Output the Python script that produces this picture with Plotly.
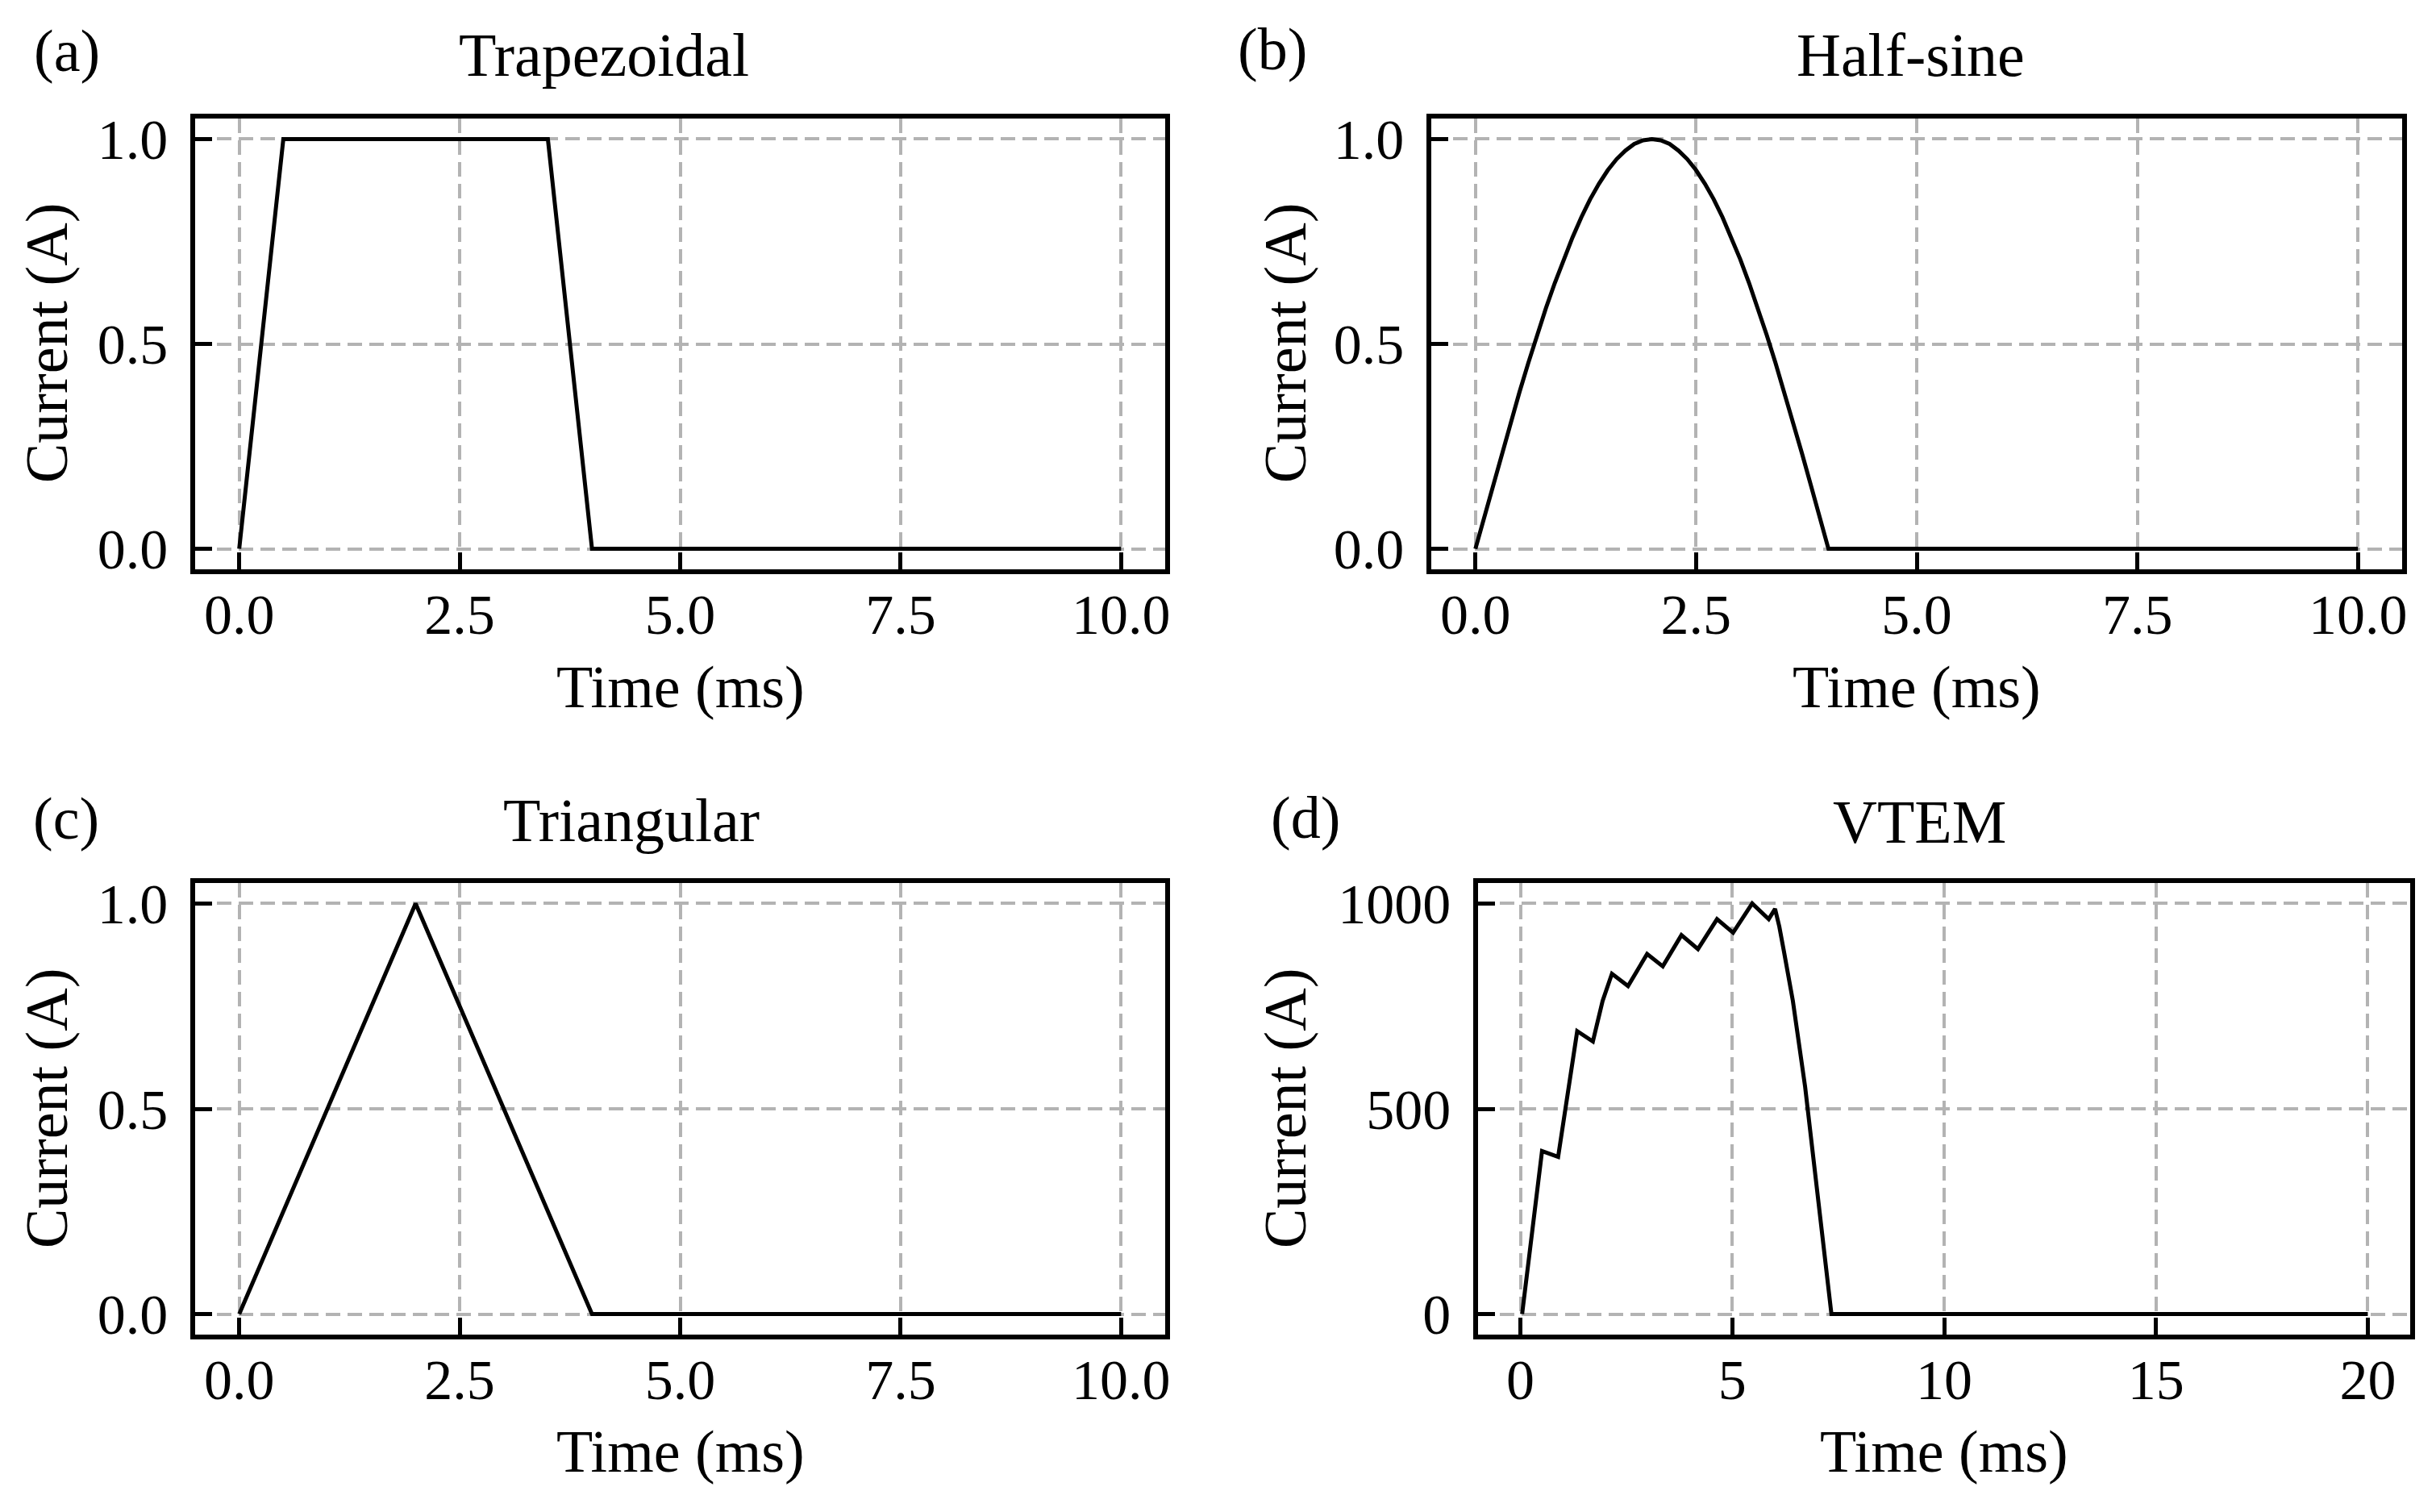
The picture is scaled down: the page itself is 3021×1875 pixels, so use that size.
import plotly.graph_objects as go

# -------------------------------------------------------
# datos
# -------------------------------------------------------
trap_t = [0.0, 0.5, 3.5, 4.0, 10.0]
trap_i = [0.0, 1.0, 1.0, 0.0, 0.0]

hsin_t = [0.0, 0.1, 0.2, 0.3, 0.4, 0.5, 0.6, 0.7, 0.8, 0.9, 1.0,
          1.1, 1.2, 1.3, 1.4, 1.5, 1.6, 1.7, 1.8, 1.9, 2.0,
          2.1, 2.2, 2.3, 2.4, 2.5, 2.6, 2.7, 2.8, 2.9, 3.0,
          3.1, 3.2, 3.3, 3.4, 3.5, 3.6, 3.7, 3.8, 3.9, 4.0, 10.0]
hsin_i = [0.0, 0.078, 0.156, 0.233, 0.309, 0.383, 0.454, 0.522, 0.588, 0.649, 0.707,
          0.760, 0.809, 0.853, 0.891, 0.924, 0.951, 0.972, 0.988, 0.997, 1.0,
          0.997, 0.988, 0.972, 0.951, 0.924, 0.891, 0.853, 0.809, 0.760, 0.707,
          0.649, 0.588, 0.522, 0.454, 0.383, 0.309, 0.233, 0.156, 0.078, 0.0, 0.0]

tri_t = [0.0, 2.0, 4.0, 10.0]
tri_i = [0.0, 1.0, 0.0, 0.0]

vtem_t = [0.04, 0.51, 0.89, 1.34, 1.71, 1.94, 2.16, 2.54, 2.99, 3.36, 3.80, 4.19,
          4.64, 5.02, 5.47, 5.86, 6.01, 6.11, 6.22, 6.43, 6.72, 7.01, 7.34, 20.0]
vtem_i = [0, 397, 383, 689, 664, 763, 829, 799, 877, 847, 923, 889,
          962, 929, 1000, 962, 987, 944, 883, 763, 553, 289, 0, 0]

ticks_t10 = [0, 2.5, 5, 7.5, 10]
ticks_t20 = [0, 5, 10, 15, 20]
ticks_i1 = [0, 0.5, 1.0]
ticks_i1000 = [0, 500, 1000]

titulos = ["Trapezoidal", "Half-sine", "Triangular", "VTEM"]
etiquetas = ["(a)", "(b)", "(c)", "(d)"]

# -------------------------------------------------------
# figura
# -------------------------------------------------------
W, H = 3021, 1875
FONT = "Liberation Serif"
GRID = "#b3b3b3"

fig = go.Figure()
series = [(trap_t, trap_i), (hsin_t, hsin_i), (tri_t, tri_i), (vtem_t, vtem_i)]
for k, (t, i) in enumerate(series):
    sfx = "" if k == 0 else str(k + 1)
    fig.add_trace(go.Scatter(x=t, y=i, mode="lines", line=dict(color="black", width=5),
                             xaxis="x" + sfx, yaxis="y" + sfx, showlegend=False))


def eje(domain, rango, tickvals, fmt, anchor, standoff):
    return dict(
        domain=domain, range=rango, tickvals=tickvals, tickformat=fmt,
        anchor=anchor, showline=True, linecolor="black", linewidth=5.5, mirror=True,
        ticks="inside", ticklen=21, tickwidth=4.5, tickcolor="black",
        showgrid=True, gridcolor=GRID, gridwidth=4, griddash="18px,9px",
        zeroline=False, ticklabelstandoff=standoff, automargin=False,
        tickfont=dict(family=FONT, size=70, color="black"),
    )


def px_x(p):
    return p / W


def px_y(p):
    return 1 - p / H


xa = [px_x(242), px_x(1445)]
xb = [px_x(1775), px_x(2979)]
xd = [px_x(1833), px_x(2989)]
ytop = [px_y(706), px_y(147)]
ybot = [px_y(1655), px_y(1095)]

fig.update_layout(
    xaxis=eje(xa, [-0.5, 10.5], ticks_t10, ".1f", "y", -10),
    yaxis=eje(ytop, [-0.05, 1.05], ticks_i1, ".1f", "x", 14),
    xaxis2=eje(xb, [-0.5, 10.5], ticks_t10, ".1f", "y2", -10),
    yaxis2=eje(ytop, [-0.05, 1.05], ticks_i1, ".1f", "x2", 14),
    xaxis3=eje(xa, [-0.5, 10.5], ticks_t10, ".1f", "y3", -10),
    yaxis3=eje(ybot, [-0.05, 1.05], ticks_i1, ".1f", "x3", 14),
    xaxis4=eje(xd, [-1, 21], ticks_t20, "d", "y4", -10),
    yaxis4=eje(ybot, [-50, 1050], ticks_i1000, "d", "x4", 14),
)

# textos: titulos, etiquetas de panel y titulos de ejes
anot = []
tit_x = [749, 2369, 783, 2380]
tit_y = [68, 68, 1017, 1019]
lab_x = [83, 1578, 82, 1619]
lab_y = [63, 61, 1015, 1014]
for k in range(4):
    anot.append(dict(text=titulos[k], x=px_x(tit_x[k]), y=px_y(tit_y[k]), xref="paper", yref="paper",
                     showarrow=False, xanchor="center", yanchor="middle",
                     font=dict(family=FONT, size=76, color="black")))
    anot.append(dict(text=etiquetas[k], x=px_x(lab_x[k]), y=px_y(lab_y[k]), xref="paper", yref="paper",
                     showarrow=False, xanchor="center", yanchor="middle",
                     font=dict(family=FONT, size=74, color="black")))

xt_x = [(242 + 1445) / 2, (1775 + 2979) / 2, (242 + 1445) / 2, (1833 + 2989) / 2]
xt_y = [852, 852, 1800, 1800]
yt_x = [58, 1594, 58, 1594]
yt_y = [426, 426, 1375, 1375]
for k in range(4):
    anot.append(dict(text="Time (ms)", x=px_x(xt_x[k]), y=px_y(xt_y[k]), xref="paper", yref="paper",
                     showarrow=False, xanchor="center", yanchor="middle",
                     font=dict(family=FONT, size=74, color="black")))
    anot.append(dict(text="Current (A)", x=px_x(yt_x[k]), y=px_y(yt_y[k]), xref="paper", yref="paper",
                     showarrow=False, xanchor="center", yanchor="middle", textangle=-90,
                     font=dict(family=FONT, size=74, color="black")))

fig.update_layout(
    width=W, height=H, margin=dict(l=0, r=0, t=0, b=0, pad=0, autoexpand=False),
    paper_bgcolor="white", plot_bgcolor="white",
    annotations=anot,
)

# quitar el margen por defecto del <body> para que la figura quede en (0, 0)
fig.write_html("out.html", config={"displayModeBar": False},
               post_script="document.body.style.margin = '0px';")
